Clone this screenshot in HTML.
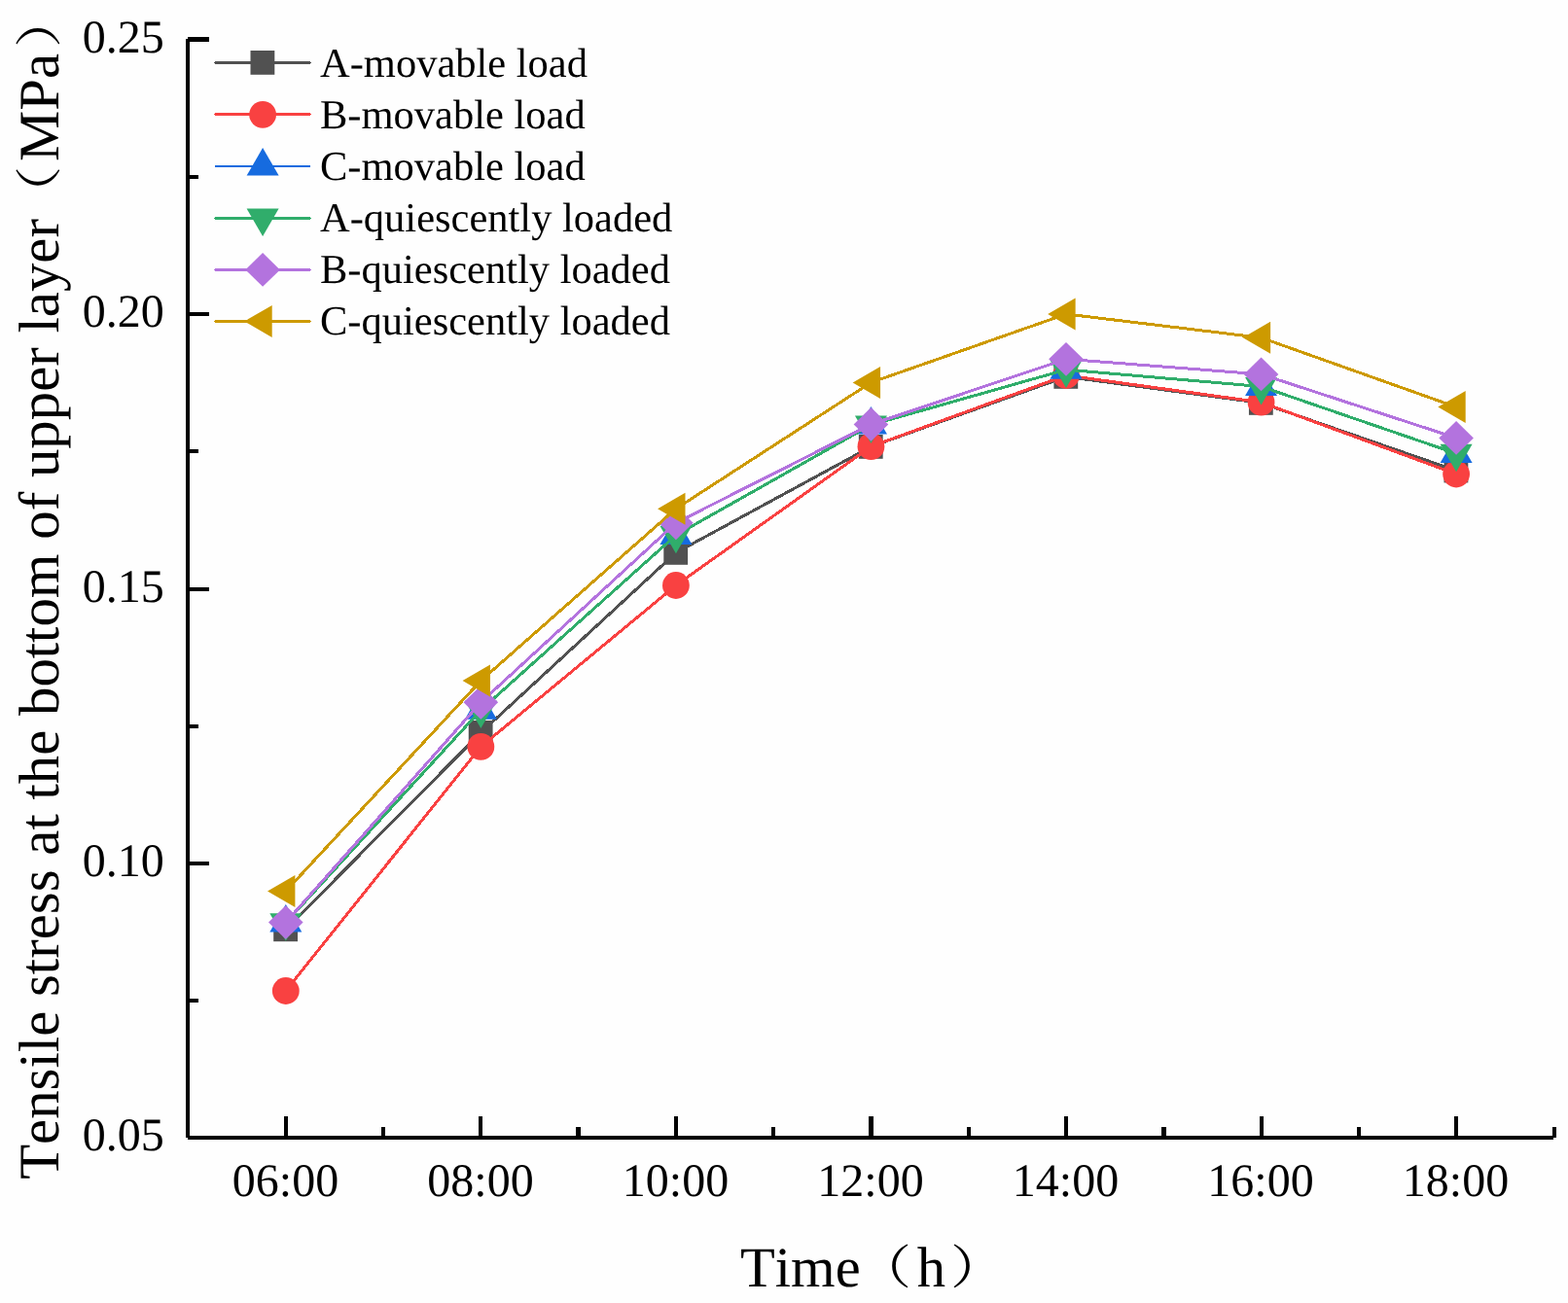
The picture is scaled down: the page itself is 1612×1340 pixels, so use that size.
<!DOCTYPE html>
<html lang="en">
<head>
<meta charset="utf-8">
<title>Tensile stress at the bottom of upper layer</title>
<style>
html, body { margin: 0; padding: 0; background: #fefefe; }
body { width: 1612px; height: 1340px; overflow: hidden; }
svg { display: block; }
text { font-family: "Liberation Serif", "Noto Serif CJK SC", serif; fill: #000; font-kerning: none; font-variant-ligatures: none; text-rendering: geometricPrecision; white-space: pre; }
.tick { font-size: 48px; }
.leg { font-size: 42.5px; }
.ttl { font-size: 58.8px; }
.xttl { font-size: 58.6px; }
.par { font-family: "Noto Serif CJK SC", "Liberation Serif", serif; font-size: 58.8px; }
</style>
</head>
<body>
<svg width="1612" height="1340" viewBox="0 0 1612 1340">
<rect x="0" y="0" width="1612" height="1340" fill="#fefefe"/>

<g fill="#000" shape-rendering="crispEdges">
<rect x="191" y="40" width="4" height="1130"/>
<rect x="193" y="1168" width="1404" height="4"/>
<rect x="193" y="38" width="22" height="5"/>
<rect x="195" y="321" width="20" height="4"/>
<rect x="195" y="604" width="20" height="4"/>
<rect x="195" y="886" width="20" height="4"/>
<rect x="195" y="180" width="9" height="4"/>
<rect x="195" y="462" width="9" height="4"/>
<rect x="195" y="745" width="9" height="4"/>
<rect x="195" y="1027" width="9" height="4"/>
<rect x="292" y="1148" width="4" height="20"/>
<rect x="492" y="1148" width="4" height="20"/>
<rect x="693" y="1148" width="4" height="20"/>
<rect x="893" y="1148" width="5" height="20"/>
<rect x="1094" y="1148" width="4" height="20"/>
<rect x="1295" y="1148" width="4" height="20"/>
<rect x="1495" y="1148" width="4" height="20"/>
<rect x="392" y="1159" width="4" height="9"/>
<rect x="592" y="1159" width="5" height="9"/>
<rect x="793" y="1159" width="4" height="9"/>
<rect x="994" y="1159" width="4" height="9"/>
<rect x="1194" y="1159" width="5" height="9"/>
<rect x="1395" y="1159" width="4" height="9"/>
<rect x="1596" y="1159" width="4" height="11"/>
</g>
<g class="tick">
<text x="168.8" y="53.8" text-anchor="end">0.25</text>
<text x="168.8" y="336.3" text-anchor="end">0.20</text>
<text x="168.8" y="619.3" text-anchor="end">0.15</text>
<text x="168.8" y="901.3" text-anchor="end">0.10</text>
<text x="168.8" y="1183.3" text-anchor="end">0.05</text>
<text x="293.5" y="1230.1" text-anchor="middle">06:00</text>
<text x="494" y="1230.1" text-anchor="middle">08:00</text>
<text x="694.5" y="1230.1" text-anchor="middle">10:00</text>
<text x="895" y="1230.1" text-anchor="middle">12:00</text>
<text x="1095.5" y="1230.1" text-anchor="middle">14:00</text>
<text x="1296" y="1230.1" text-anchor="middle">16:00</text>
<text x="1496.5" y="1230.1" text-anchor="middle">18:00</text>
</g>
<g>
<text class="xttl" x="761" y="1322.8">Time</text>
<text class="par" transform="translate(880,1319.5) scale(0.97,0.813)">（</text>
<text class="xttl" x="942.82" y="1322.8">h</text>
<text class="par" transform="translate(977.1,1319.5) scale(0.97,0.813)">）</text>
</g>
<g transform="translate(60.1,1212.8) rotate(-90)">
<text class="ttl" x="0" y="0">Tensile stress at the bottom of upper layer</text>
<text class="par" transform="translate(985.02,-3.3) scale(0.97,0.813)">（</text>
<text class="ttl" x="1046.82" y="0">MPa</text>
<text class="par" transform="translate(1163.89,-3.3) scale(0.97,0.813)">）</text>
</g>
<g>
<polyline points="293.8,955.8 494.35,753.4 694.9,568.4 895.45,459.4 1096,387.4 1296.55,414.4 1497.1,484" fill="none" stroke="#515151" stroke-width="3.0" stroke-linejoin="round" shape-rendering="crispEdges"/>
<rect x="281.2" y="943.4" width="24.8" height="24.8" fill="#515151"/>
<rect x="481.75" y="741" width="24.8" height="24.8" fill="#515151"/>
<rect x="682.3" y="556" width="24.8" height="24.8" fill="#515151"/>
<rect x="882.85" y="447" width="24.8" height="24.8" fill="#515151"/>
<rect x="1083.4" y="375" width="24.8" height="24.8" fill="#515151"/>
<rect x="1283.95" y="402" width="24.8" height="24.8" fill="#515151"/>
<rect x="1484.5" y="471.6" width="24.8" height="24.8" fill="#515151"/>
</g>
<g>
<polyline points="293.8,1019 494.35,767.9 694.9,602 895.45,459.2 1096,386 1296.55,413.7 1497.1,487.5" fill="none" stroke="#F94141" stroke-width="3.0" stroke-linejoin="round" shape-rendering="crispEdges"/>
<circle cx="293.8" cy="1019" r="13.9" fill="#F94141"/>
<circle cx="494.35" cy="767.9" r="13.9" fill="#F94141"/>
<circle cx="694.9" cy="602" r="13.9" fill="#F94141"/>
<circle cx="895.45" cy="459.2" r="13.9" fill="#F94141"/>
<circle cx="1096" cy="386" r="13.9" fill="#F94141"/>
<circle cx="1296.55" cy="413.7" r="13.9" fill="#F94141"/>
<circle cx="1497.1" cy="487.5" r="13.9" fill="#F94141"/>
</g>
<g>
<polyline points="293.8,948.9 494.35,730.2 694.9,550.35 895.45,437 1096,380.15 1296.55,397.5 1497.1,466.4" fill="none" stroke="#166BDF" stroke-width="3.0" stroke-linejoin="round" shape-rendering="crispEdges"/>
<polygon points="293.8,930 310.3,958.5 277.3,958.5" fill="#166BDF"/>
<polygon points="494.35,711.3 510.85,739.8 477.85,739.8" fill="#166BDF"/>
<polygon points="694.9,531.45 711.4,559.95 678.4,559.95" fill="#166BDF"/>
<polygon points="895.45,418.1 911.95,446.6 878.95,446.6" fill="#166BDF"/>
<polygon points="1096,361.25 1112.5,389.75 1079.5,389.75" fill="#166BDF"/>
<polygon points="1296.55,378.6 1313.05,407.1 1280.05,407.1" fill="#166BDF"/>
<polygon points="1497.1,447.5 1513.6,476 1480.6,476" fill="#166BDF"/>
</g>
<g>
<polyline points="293.8,948.9 494.35,730.2 694.9,550.35 895.45,437 1096,380.15 1296.55,397.5 1497.1,466.4" fill="none" stroke="#30AD6B" stroke-width="3.0" stroke-linejoin="round" shape-rendering="crispEdges"/>
<polygon points="293.8,967.8 310.3,939.3 277.3,939.3" fill="#30AD6B"/>
<polygon points="494.35,749.1 510.85,720.6 477.85,720.6" fill="#30AD6B"/>
<polygon points="694.9,569.25 711.4,540.75 678.4,540.75" fill="#30AD6B"/>
<polygon points="895.45,455.9 911.95,427.4 878.95,427.4" fill="#30AD6B"/>
<polygon points="1096,399.05 1112.5,370.55 1079.5,370.55" fill="#30AD6B"/>
<polygon points="1296.55,416.4 1313.05,387.9 1280.05,387.9" fill="#30AD6B"/>
<polygon points="1497.1,485.3 1513.6,456.8 1480.6,456.8" fill="#30AD6B"/>
</g>
<g>
<polyline points="293.8,948.6 494.35,722.3 694.9,537.8 895.45,436.4 1096,369.3 1296.55,384.9 1497.1,450.4" fill="none" stroke="#B373DE" stroke-width="3.0" stroke-linejoin="round" shape-rendering="crispEdges"/>
<polygon points="293.8,931.2 311.6,948.6 293.8,966 276,948.6" fill="#B373DE"/>
<polygon points="494.35,704.9 512.15,722.3 494.35,739.7 476.55,722.3" fill="#B373DE"/>
<polygon points="694.9,520.4 712.7,537.8 694.9,555.2 677.1,537.8" fill="#B373DE"/>
<polygon points="895.45,419 913.25,436.4 895.45,453.8 877.65,436.4" fill="#B373DE"/>
<polygon points="1096,351.9 1113.8,369.3 1096,386.7 1078.2,369.3" fill="#B373DE"/>
<polygon points="1296.55,367.5 1314.35,384.9 1296.55,402.3 1278.75,384.9" fill="#B373DE"/>
<polygon points="1497.1,433 1514.9,450.4 1497.1,467.8 1479.3,450.4" fill="#B373DE"/>
</g>
<g>
<polyline points="293.8,916.5 494.35,700 694.9,523.2 895.45,393.4 1096,323 1296.55,347.3 1497.1,418.6" fill="none" stroke="#CD9A00" stroke-width="3.0" stroke-linejoin="round" shape-rendering="crispEdges"/>
<polygon points="275,916.5 303.4,900 303.4,933" fill="#CD9A00"/>
<polygon points="475.55,700 503.95,683.5 503.95,716.5" fill="#CD9A00"/>
<polygon points="676.1,523.2 704.5,506.7 704.5,539.7" fill="#CD9A00"/>
<polygon points="876.65,393.4 905.05,376.9 905.05,409.9" fill="#CD9A00"/>
<polygon points="1077.2,323 1105.6,306.5 1105.6,339.5" fill="#CD9A00"/>
<polygon points="1277.75,347.3 1306.15,330.8 1306.15,363.8" fill="#CD9A00"/>
<polygon points="1478.3,418.6 1506.7,402.1 1506.7,435.1" fill="#CD9A00"/>
</g>
<g class="leg">
<g shape-rendering="crispEdges">
<rect x="221" y="63" width="98" height="3" fill="#515151"/>
<rect x="220" y="64" width="100" height="1" fill="#515151"/>
</g>
<rect x="257.5" y="52" width="24.8" height="24.8" fill="#515151"/>
<text x="329" y="78.6">A-movable load</text>
<g shape-rendering="crispEdges">
<rect x="221" y="116" width="98" height="3" fill="#F94141"/>
<rect x="220" y="117" width="100" height="1" fill="#F94141"/>
</g>
<circle cx="270.1" cy="117.8" r="13.9" fill="#F94141"/>
<text x="329" y="131.8">B-movable load</text>
<g shape-rendering="crispEdges">
<rect x="221" y="170" width="98" height="2" fill="#166BDF"/>
</g>
<polygon points="270.1,152.1 286.6,180.6 253.6,180.6" fill="#166BDF"/>
<text x="329" y="185">C-movable load</text>
<g shape-rendering="crispEdges">
<rect x="221" y="223" width="98" height="3" fill="#30AD6B"/>
<rect x="220" y="224" width="100" height="1" fill="#30AD6B"/>
</g>
<polygon points="270.1,243.1 286.6,214.6 253.6,214.6" fill="#30AD6B"/>
<text x="329" y="238">A-quiescently loaded</text>
<g shape-rendering="crispEdges">
<rect x="221" y="276" width="98" height="3" fill="#B373DE"/>
<rect x="220" y="277" width="100" height="1" fill="#B373DE"/>
</g>
<polygon points="270.1,260 287.9,277.4 270.1,294.8 252.3,277.4" fill="#B373DE"/>
<text x="329" y="291.2">B-quiescently loaded</text>
<g shape-rendering="crispEdges">
<rect x="221" y="329" width="98" height="3" fill="#CD9A00"/>
<rect x="220" y="330" width="100" height="1" fill="#CD9A00"/>
</g>
<polygon points="251.3,330.4 279.7,313.9 279.7,346.9" fill="#CD9A00"/>
<text x="329" y="344.4">C-quiescently loaded</text>
</g>
</svg>
</body>
</html>
